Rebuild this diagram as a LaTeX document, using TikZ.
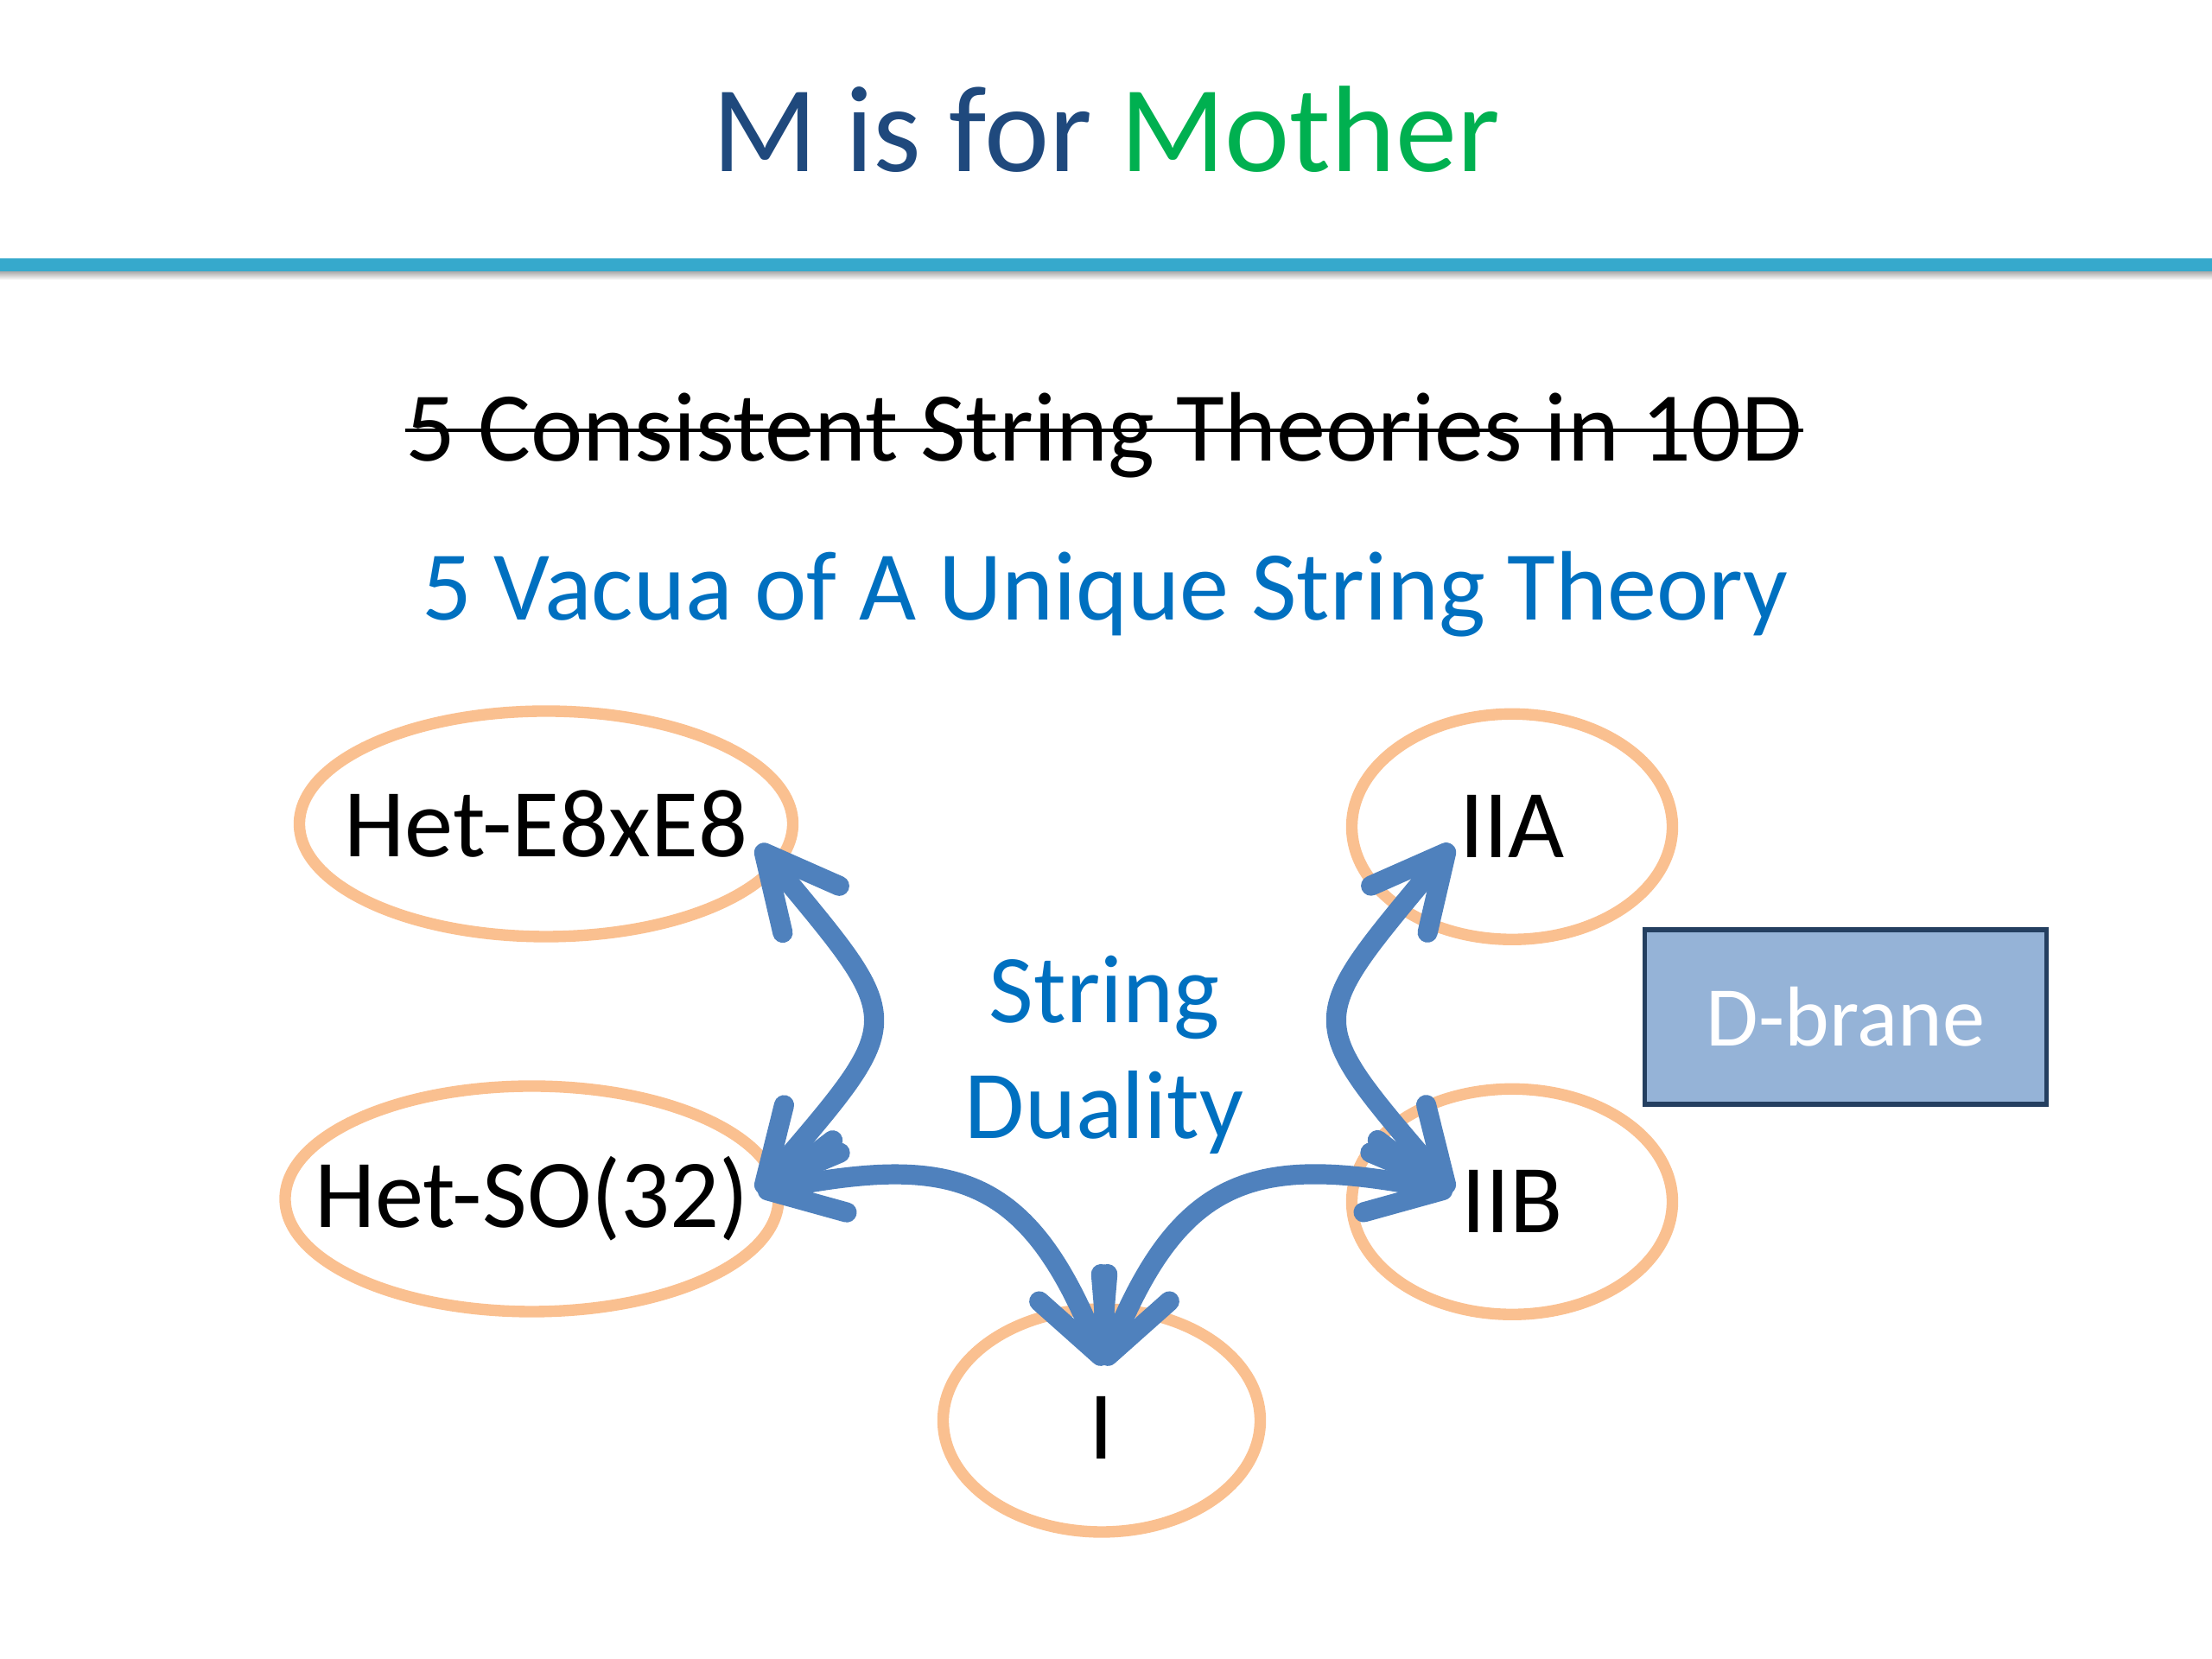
\documentclass[tikz,border=0pt]{standalone}
\usepackage{fontspec}
\setmainfont{Carlito}
\usetikzlibrary{shapes.geometric,arrows.meta}
\definecolor{titleblue}{HTML}{1F497D}
\definecolor{titlegreen}{HTML}{00B050}
\definecolor{rulecyan}{HTML}{36A9CC}
\definecolor{textblue}{HTML}{0070C0}
\definecolor{orbline}{HTML}{FAC090}
\definecolor{arrowblue}{HTML}{4F81BD}
\definecolor{branefill}{HTML}{95B3D7}
\definecolor{braneline}{HTML}{243F60}
\tikzstyle{heading} = [ anchor = base, inner sep = 0pt, font = \fontsize{40.5}{48}\selectfont ]
\tikzstyle{line32} = [ anchor = base, inner sep = 0pt, font = \fontsize{32.5}{38}\selectfont ]
\tikzstyle{vacuum} = [ ellipse, draw = orbline, line width = 3.8pt, inner sep = 0pt, %
                       minimum width = 5.71cm, minimum height = 2.61cm ]
\tikzstyle{small vacuum} = [ vacuum, minimum width = 3.71cm ]
\tikzstyle{every label} = [ inner sep = 0pt, font = \fontsize{32}{38}\selectfont ]
\tikzstyle{brane} = [ rectangle, minimum width = 4.65cm, minimum height = 2.02cm, %
                      fill = branefill, draw = braneline, line width = 1.6pt, %
                      text = white, font = \fontsize{28}{34}\selectfont ]
\tikzstyle{dual} = [ draw = arrowblue, line width = 6.6pt, <->, %
                     >={Straight Barb[length=0.85cm,width=0.85cm,round]} ]
\begin{document}
\begin{tikzpicture}[node distance = 4.34cm]
      \useasboundingbox (0,0) rectangle (25.6,19.2);
      % Header
      \node (title) [heading] at (12.8,17.21)
        {\textcolor{titleblue}{M is for} \textcolor{titlegreen}{Mother}};
      \shade [top color=black!40, bottom color=white] (0,15.96) rectangle (25.6,16.08);
      \draw [line width=0.15cm, rulecyan] (0,16.135) -- (25.6,16.135);
      \node (consistent) [line32] at (12.78,13.86) {5 Consistent String Theories in 10D};
      \draw [line width=1.4pt] ([yshift=0.36cm]consistent.base west) -- %
        ([yshift=0.36cm]consistent.base east);
      \node (vacua) [line32, text=textblue] at (12.79,12.02) {5 Vacua of A Unique String Theory};
      % Vacua
      \node (e8) [vacuum, label={center:Het-E8xE8}] at (6.32,9.665) {};
      \node (so) [vacuum, below of=e8, xshift=-0.165cm, label={center:Het-SO(32)}] {};
      \node (iia) [small vacuum, label={center:IIA}] at (17.5,9.632) {};
      \node (iib) [small vacuum, below of=iia, label={center:IIB}] {};
      \node (one) [small vacuum, minimum width=3.67cm, minimum height=2.58cm, %
        label={[yshift=-0.08cm]center:I}] at (12.75,2.76) {};
      \node (duality) [text=textblue, align=center, font=\fontsize{32}{38}\selectfont] %
        at (12.78,6.99) {String\\Duality};
      \node (dbrane) [brane] at (21.36,7.43) {D-brane};
      % Arrow ends
      \coordinate (e8 tip) at ([xshift=2.45cm,yshift=-0.245cm]e8.center);
      \coordinate (so tip) at ([xshift=2.615cm,yshift=0.075cm]so.center);
      \coordinate (iia tip) at ([xshift=-0.69cm,yshift=-0.21cm]iia.center);
      \coordinate (iib tip) at ([xshift=-0.69cm,yshift=0.11cm]iib.center);
      \coordinate (one tip) at ([xshift=0.03cm,yshift=0.64cm]one.center);
      % Arrows
      \draw [dual] (e8 tip) .. controls +(1.73,-2.09) and +(1.76,2.06) .. (so tip);
      \draw [dual] (so tip) .. controls +(2.25,0.44) and +(-0.89,2.23) .. (one tip);
      \draw [dual] (iib tip) .. controls +(-2.25,0.44) and +(0.89,2.23) .. (one tip);
      \draw [dual] (iia tip) .. controls +(-1.73,-2.09) and +(-1.76,2.06) .. (iib tip);
\end{tikzpicture}
\end{document}
